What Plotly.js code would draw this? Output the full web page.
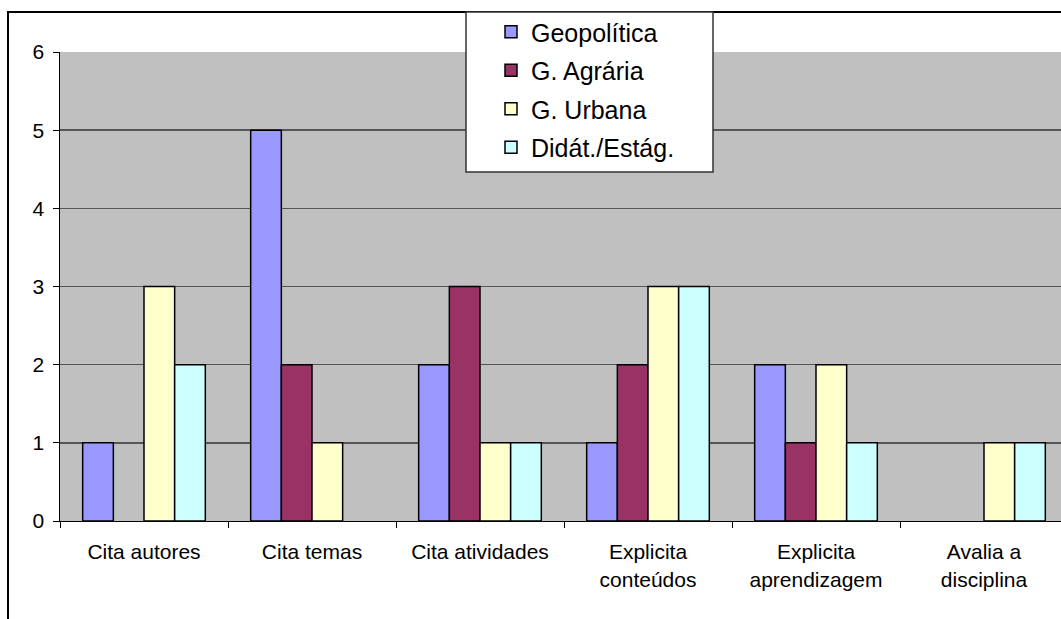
<!DOCTYPE html>
<html>
<head>
<meta charset="utf-8">
<script src="https://cdn.plot.ly/plotly-3.0.1.min.js"></script>
<style>
html,body{margin:0;padding:0;background:#fff;}
#chart{width:1061px;height:619px;}
</style>
</head>
<body>
<div id="chart"></div>
<script>
const categories = ["Cita autores", "Cita temas", "Cita atividades", "Explicita<br>conteúdos", "Explicita<br>aprendizagem", "Avalia a<br>disciplina"];
const seriesNames = ["Geopolítica", "G. Agrária", "G. Urbana", "Didát./Estág."];
const geopolitica = [1, 5, 2, 1, 2, 0];
const agraria = [0, 2, 3, 2, 1, 0];
const urbana = [3, 1, 1, 3, 2, 1];
const didatica = [2, 0, 1, 3, 1, 1];
const colors = ["#9999FF", "#993366", "#FFFFCC", "#CCFFFF"];
const yTicks = [0, 1, 2, 3, 4, 5, 6];

const seriesValues = [geopolitica, agraria, urbana, didatica];
const traces = seriesValues.map((vals, i) => ({
  type: "bar",
  name: seriesNames[i],
  legendgroup: "g" + i,
  x: categories,
  y: vals.map(v => v === 0 ? null : v),
  marker: {color: colors[i], line: {color: "#000000", width: 1.5}},
  hoverinfo: "x+y+name"
}));

const L = 60, T = 52, W = 1001, H = 469;
const px = x => (x - L) / W;
const py = y => (T + H - y) / H;

const layout = {
  width: 1061, height: 619,
  margin: {l: L, r: 0, t: T, b: 619 - T - H, pad: 0},
  paper_bgcolor: "#FFFFFF",
  plot_bgcolor: "#C0C0C0",
  font: {family: "'Liberation Sans', Arial, sans-serif", color: "#000000", size: 21},
  barmode: "group",
  bargap: 0.27,
  bargroupgap: 0,
  showlegend: true,
  legend: {
    x: px(491), y: py(9), xanchor: "left", yanchor: "top",
    bgcolor: "rgba(0,0,0,0)", borderwidth: 0,
    font: {size: 25, family: "'Liberation Sans', Arial, sans-serif", color: "#000"},
    traceorder: "grouped", tracegroupgap: 3
  },
  xaxis: {
    type: "category",
    range: [-0.5, -0.5 + W / 168],
    showline: true, linecolor: "#000", linewidth: 1,
    ticks: "outside", tickson: "boundaries", ticklen: 6, tickcolor: "#000",
    tickfont: {size: 21},
    ticklabelstandoff: 12,
    showgrid: false, zeroline: false, fixedrange: true
  },
  yaxis: {
    range: [0, 6],
    tickvals: yTicks,
    ticktext: yTicks.map(String),
    showline: true, linecolor: "#000", linewidth: 1.5,
    ticks: "outside", ticklen: 6, tickcolor: "#000",
    tickfont: {size: 21},
    ticklabelstandoff: 4,
    showgrid: true, gridcolor: "#555555", gridwidth: 1.5,
    zeroline: false, fixedrange: true
  },
  shapes: [
    {type: "rect", xref: "paper", yref: "paper", x0: px(8), x1: 1.2, y0: -0.5, y1: py(12),
     line: {color: "#000", width: 2}, fillcolor: "rgba(0,0,0,0)", layer: "above"},
    {type: "rect", xref: "paper", yref: "paper", x0: px(466), x1: px(713), y0: py(172), y1: py(12),
     line: {color: "#333", width: 1.5}, fillcolor: "#FFFFFF", layer: "above"}
  ]
};

Plotly.newPlot("chart", traces, layout, {displayModeBar: false, staticPlot: true});
</script>
</body>
</html>
